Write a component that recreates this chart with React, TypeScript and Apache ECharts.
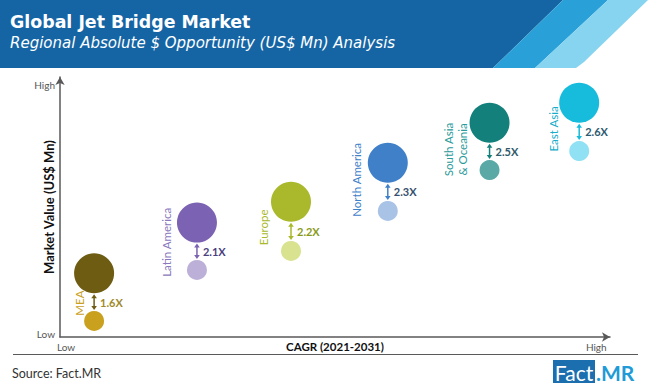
import React, { useEffect, useRef } from "react";
import * as echarts from "echarts";

// ---- Data ----
const regions = ["MEA", "Latin America", "Europe", "North America", "South Asia\n& Oceania", "East Asia"];
const cagrPosition = [6.2, 24.9, 42.0, 59.6, 78.1, 94.4];
const value2031 = [24.5, 44.0, 52.0, 67.0, 82.4, 90.1];
const value2021 = [6.2, 25.8, 33.1, 48.5, 64.2, 71.5];
const growthLabels = ["1.6X", "2.1X", "2.2X", "2.3X", "2.5X", "2.6X"];
const xTickLabels = ["Low", "High"];
const xTickValues = [1.1, 97.5];
const yTickLabels = ["Low", "High"];
const yTickValues = [1.2, 96.9];

// ---- Styles / layout ----
const bigColors = ["#6e5c12", "#7b62b2", "#a9b92b", "#3f80c9", "#14807c", "#17bbdb"];
const smallColors = ["#c9a11e", "#bcb0d8", "#d9e28f", "#a9c3e6", "#5aa9a6", "#8fe1f3"];
const nameColors = ["#c9a11e", "#8a77bd", "#a9b92b", "#3f80c9", "#2a9a9a", "#17acca"];
const growthColors = ["#a08a2a", "#4a3f80", "#8a9a1a", "#34506e", "#2f5a6a", "#2d5a70"];
const nameDx = [-15, -30, -28, -31, -34, -26];
const nameDy = [6, -4, 1, -7, 3, 2];

const FONT = "Lato";
const HEAD_FONT = "DejaVu Sans";

export default function App() {
  const ref = useRef<HTMLDivElement>(null);

  useEffect(() => {
    if (!ref.current) return;
    const chart = echarts.init(ref.current, undefined, { renderer: "svg" });

    const axisLineStyle = { color: "#595959", width: 1.5 };

    chart.setOption({
      animation: false,
      backgroundColor: "#ffffff",
      grid: { left: 60, right: 40, top: 77, bottom: 52, containLabel: false },
      xAxis: {
        type: "value",
        min: 0,
        max: 100,
        name: "CAGR (2021-2031)",
        nameLocation: "middle",
        nameGap: 3,
        nameMoveOverlap: false,
        nameTextStyle: {
          fontFamily: FONT,
          fontWeight: "bold",
          fontSize: 11.5,
          color: "#111",
          verticalAlign: "top",
        },
        axisLine: { show: true, symbol: ["none", "arrow"], symbolSize: [7, 8], lineStyle: axisLineStyle },
        axisTick: { show: false },
        splitLine: { show: false },
        axisLabel: {
          customValues: xTickValues,
          margin: 5,
          fontFamily: FONT,
          fontSize: 10,
          color: "#555",
          formatter: (v: number) => {
            const k = xTickValues.indexOf(v);
            return k >= 0 ? xTickLabels[k] : "";
          },
        },
      },
      yAxis: {
        type: "value",
        min: 0,
        max: 100,
        name: "Market Value (US$ Mn)",
        nameLocation: "middle",
        nameGap: 5,
        nameMoveOverlap: false,
        nameTextStyle: {
          fontFamily: FONT,
          fontWeight: "bold",
          fontSize: 13,
          color: "#111",
        },
        axisLine: { show: true, symbol: ["none", "arrow"], symbolSize: [7, 8], lineStyle: axisLineStyle },
        axisTick: { show: false },
        splitLine: { show: false },
        axisLabel: {
          customValues: yTickValues,
          margin: 5,
          fontFamily: FONT,
          fontSize: 10,
          color: "#555",
          formatter: (v: number) => {
            const k = yTickValues.indexOf(v);
            return k >= 0 ? yTickLabels[k] : "";
          },
        },
      },
      graphic: [
        { type: "polygon", shape: { points: [[0, 0], [563, 0], [493, 68], [0, 68]] }, style: { fill: "#1565a5" } },
        { type: "polygon", shape: { points: [[563, 0], [608, 0], [535, 68], [493, 68]] }, style: { fill: "#29a0d8" } },
        {
          type: "polygon",
          shape: { points: [[608, 0], [648, 0], [584, 62], [576, 68], [535, 68]] },
          style: { fill: "#86d4ef" },
        },
        {
          type: "text",
          x: 10,
          y: 22,
          style: {
            text: "Global Jet Bridge Market",
            fill: "#ffffff",
            font: `bold 17.4px "${HEAD_FONT}"`,
            align: "left",
            verticalAlign: "middle",
          },
        },
        {
          type: "text",
          x: 10,
          y: 43,
          style: {
            text: "Regional Absolute $ Opportunity (US$ Mn) Analysis",
            fill: "#ffffff",
            font: `oblique 15px "${HEAD_FONT}"`,
            align: "left",
            verticalAlign: "middle",
          },
        },
        { type: "line", shape: { x1: 13, y1: 354.5, x2: 638, y2: 354.5 }, style: { stroke: "#595959", lineWidth: 1 } },
        {
          type: "text",
          x: 12,
          y: 373,
          style: { text: "Source: Fact.MR", fill: "#333", font: `12.5px ${FONT}`, align: "left", verticalAlign: "middle" },
        },
        { type: "rect", shape: { x: 553, y: 360, width: 42, height: 23 }, style: { fill: "#1b6fae" } },
        {
          type: "text",
          x: 574,
          y: 372,
          style: { text: "Fact", fill: "#ffffff", font: `21px ${FONT}`, align: "center", verticalAlign: "middle" },
        },
        {
          type: "text",
          x: 596,
          y: 372,
          style: { text: ".MR", fill: "#1f9bd7", font: `bold 21px ${FONT}`, align: "left", verticalAlign: "middle" },
        },
      ],
      series: [
        {
          type: "custom",
          coordinateSystem: "cartesian2d",
          encode: { x: 0, y: [1, 2] },
          data: regions.map((_, i) => [cagrPosition[i], value2031[i], value2021[i], i]),
          renderItem: (_params: any, api: any) => {
            const i = api.value(3) as number;
            const big = api.coord([api.value(0), api.value(1)]);
            const small = api.coord([api.value(0), api.value(2)]);
            const rB = 20;
            const rS = 10;
            const x = big[0];
            const y1 = big[1] + rB + 1;
            const y2 = small[1] - rS - 1;
            const head = 4;
            const hw = 2.8;
            const c = bigColors[i];
            return {
              type: "group",
              children: [
                { type: "circle", shape: { cx: big[0], cy: big[1], r: rB }, style: { fill: c } },
                { type: "circle", shape: { cx: small[0], cy: small[1], r: rS }, style: { fill: smallColors[i] } },
                {
                  type: "line",
                  shape: { x1: x, y1: y1 + head - 1, x2: x, y2: y2 - head + 1 },
                  style: { stroke: c, lineWidth: 1.5 },
                },
                {
                  type: "polygon",
                  shape: { points: [[x, y1], [x - hw, y1 + head], [x + hw, y1 + head]] },
                  style: { fill: c },
                },
                {
                  type: "polygon",
                  shape: { points: [[x, y2], [x - hw, y2 - head], [x + hw, y2 - head]] },
                  style: { fill: c },
                },
                {
                  type: "text",
                  x: x + 6,
                  y: (y1 + y2) / 2,
                  style: {
                    text: growthLabels[i],
                    fill: growthColors[i],
                    font: `bold 11px ${FONT}`,
                    align: "left",
                    verticalAlign: "middle",
                  },
                },
                {
                  type: "text",
                  x: x + nameDx[i],
                  y: (big[1] + small[1]) / 2 + nameDy[i],
                  rotation: Math.PI / 2,
                  style: {
                    text: regions[i],
                    fill: nameColors[i],
                    fontFamily: FONT,
                    fontSize: 11.5,
                    lineHeight: 14.5,
                    align: "center",
                    verticalAlign: "middle",
                  },
                },
              ],
            };
          },
        },
      ],
    });

    return () => chart.dispose();
  }, []);

  return (
    <div
      ref={ref}
      style={{ position: "fixed", left: 0, top: 0, width: 650, height: 389, background: "#fff" }}
    />
  );
}
